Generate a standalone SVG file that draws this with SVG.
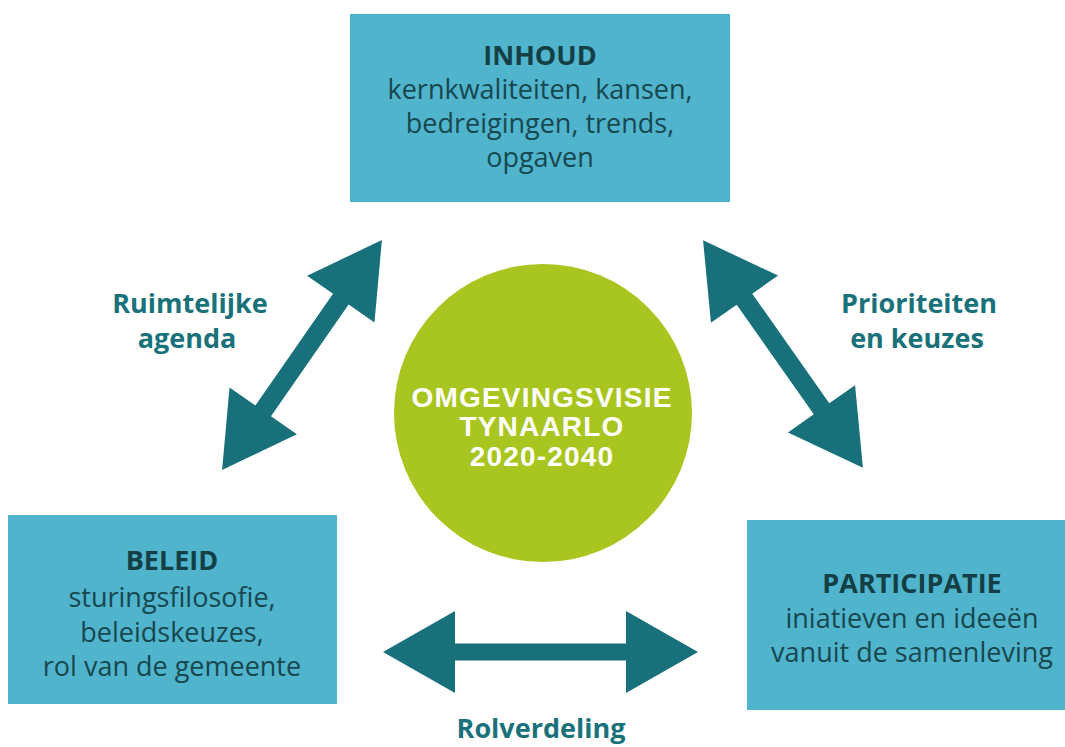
<svg xmlns="http://www.w3.org/2000/svg" width="1065" height="747" viewBox="0 0 1065 747">
  <style>
    .box { fill: #50b4cc; }
    .head { font-family: "Open Sans", Lato, sans-serif; font-weight: 700; font-size: 27px; fill: #153f46; text-anchor: middle; }
    .body { font-family: "Open Sans", Lato, sans-serif; font-weight: 400; font-size: 27px; fill: #17474f; text-anchor: middle; }
    .lbl { font-family: "Open Sans", Lato, sans-serif; font-weight: 700; font-size: 27px; fill: #19727a; text-anchor: middle; }
    .ctr { font-family: "Liberation Sans", Arial, sans-serif; font-weight: 700; font-size: 28px; letter-spacing: 1.2px; fill: #ffffff; text-anchor: middle; }
    .arrow { fill: #17707a; }
  </style>
  <rect width="1065" height="747" fill="#ffffff"/>

  <g id="connectors">
    <polygon class="arrow" transform="translate(302,355) rotate(-55.2)" points="-140,0 -68,-41 -68,-9.5 68,-9.5 68,-41 140,0 68,41 68,9.5 -68,9.5 -68,41"/>
    <polygon class="arrow" transform="translate(783,354) rotate(54.9)" points="-139,0 -67,-41 -67,-9.5 67,-9.5 67,-41 139,0 67,41 67,9.5 -67,9.5 -67,41"/>
    <polygon class="arrow" transform="translate(540.5,652)" points="-157.5,0 -85.5,-41 -85.5,-8.5 85.5,-8.5 85.5,-41 157.5,0 85.5,41 85.5,8.5 -85.5,8.5 -85.5,41"/>
    <text class="lbl" x="190" y="313">Ruimtelijke</text>
    <text class="lbl" x="187" y="348">agenda</text>
    <text class="lbl" x="919" y="313">Prioriteiten</text>
    <text class="lbl" x="917" y="348">en keuzes</text>
    <text class="lbl" x="541" y="738">Rolverdeling</text>
  </g>

  <g id="inhoud">
    <rect class="box" x="350" y="14" width="380" height="188"/>
    <text class="head" x="540" y="65">INHOUD</text>
    <text class="body" x="540" y="99">kernkwaliteiten, kansen,</text>
    <text class="body" x="540" y="133">bedreigingen, trends,</text>
    <text class="body" x="540" y="167">opgaven</text>
  </g>

  <g id="beleid">
    <rect class="box" x="8" y="515" width="329" height="189"/>
    <text class="head" x="172" y="570">BELEID</text>
    <text class="body" x="172" y="607">sturingsfilosofie,</text>
    <text class="body" x="172" y="642">beleidskeuzes,</text>
    <text class="body" x="172" y="676">rol van de gemeente</text>
  </g>

  <g id="participatie">
    <rect class="box" x="747" y="520" width="318" height="190"/>
    <text class="head" x="912" y="593">PARTICIPATIE</text>
    <text class="body" x="912" y="628">iniatieven en ideeën</text>
    <text class="body" x="912" y="662">vanuit de samenleving</text>
  </g>

  <g id="omgevingsvisie">
    <circle cx="543" cy="413" r="149" fill="#a9c51f"/>
    <text class="ctr" x="542" y="407">OMGEVINGSVISIE</text>
    <text class="ctr" x="542" y="436">TYNAARLO</text>
    <text class="ctr" x="542" y="466">2020-2040</text>
  </g>
</svg>
